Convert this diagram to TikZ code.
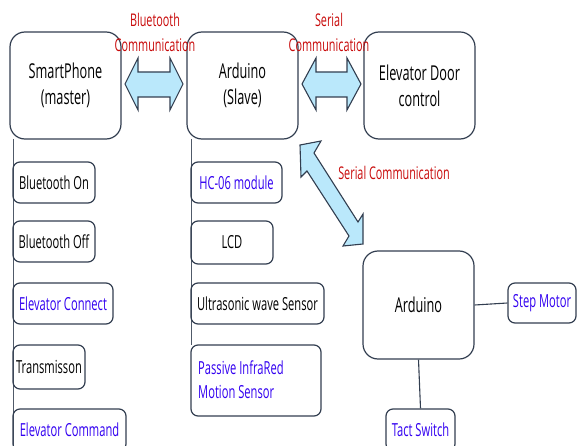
\documentclass[tikz,border=0pt]{standalone}
\usepackage{fontspec}
\setmainfont[FakeStretch=0.62]{Open Sans}
\definecolor{edge}{RGB}{50,62,80}
\definecolor{busline}{RGB}{80,90,105}
\definecolor{redtxt}{RGB}{200,10,10}
\definecolor{bluetxt}{RGB}{50,0,240}
\definecolor{arrowfill}{RGB}{186,232,251}
\tikzset{
  bigbox/.style={draw=edge, line width=1.2pt, rounded corners=15pt, minimum width=111pt, minimum height=107pt, inner sep=0pt, align=center, font=\fontsize{20.5}{26}\selectfont},
  smallbox/.style={draw=edge, line width=1.2pt, rounded corners=7pt, minimum height=41pt, inner sep=0pt, align=center, font=\fontsize{18}{24}\selectfont},
  bluebox/.style={smallbox, text=bluetxt},
  commlabel/.style={text=redtxt, align=center, inner sep=0pt, font=\fontsize{17.5}{25}\selectfont},
  link/.style={draw=edge, line width=1.1pt},
  busstyle/.style={draw=busline, line width=0.9pt},
  fatarrow/.style={draw=edge, line width=1.1pt, fill=arrowfill, line join=miter}
}
\begin{document}
\begin{tikzpicture}[x=1pt,y=-1pt]
\useasboundingbox (0,0) rectangle (577,446);
% vertical bus lines
\coordinate (lt) at (13,139);
\coordinate (lb) at (13,446);
\coordinate (mt) at (191,139);
\coordinate (mb) at (191,345);
\draw[busstyle] (lt) -- (lb);
\draw[busstyle] (mt) -- (mb);
% main boxes
\node[bigbox] (sp) at (65.5,85.5) {SmartPhone\\(master)};
\node[bigbox] (ard1) at (242.5,85.5) {Arduino\\(Slave)};
\node[bigbox] (door) at (419.5,85.5) {Elevator Door\\control};
\node[bigbox, minimum height=108pt] (ard2) at (418.5,305) {Arduino};
% left column
\node[smallbox, minimum width=82pt] (bton) at (54,182.5) {Bluetooth On};
\node[smallbox, minimum width=82pt] (btoff) at (54,241.5) {Bluetooth Off};
\node[bluebox, minimum width=100pt] (econ) at (63,303.5) {Elevator Connect};
\node[smallbox, minimum width=72pt, minimum height=44pt] (trans) at (49,367) {Transmisson};
\node[bluebox, minimum width=113pt, minimum height=42pt] (ecmd) at (69.5,430) {Elevator Command};
% middle column
\node[bluebox, minimum width=91pt] (hc) at (236.5,182.5) {HC-06 module};
\node[smallbox, minimum width=82pt, minimum height=43pt] (lcd) at (232,242.5) {LCD};
\node[smallbox, minimum width=133pt] (ultra) at (257.5,303.5) {Ultrasonic wave Sensor};
\node[smallbox, minimum width=130pt, minimum height=71pt] (pir) at (256,380.5) {};
\node[anchor=west, inner sep=0pt, text=bluetxt, align=left, font=\fontsize{18}{24}\selectfont] (pirtext) at (198,379.5) {Passive InfraRed\\Motion Sensor};
% right side
\node[bluebox, minimum width=68pt, minimum height=40pt] (step) at (542,303) {Step Motor};
\node[bluebox, minimum width=69pt, minimum height=42pt] (tact) at (420.5,430) {Tact Switch};
\draw[link] (ard2.east) -- (step.west);
\draw[link] (ard2.south) -- (tact.north);
% communication arrows
\draw[fatarrow] (125,84) -- (138,58) -- (138,72) -- (170,72) -- (170,58) -- (183,84) -- (170,110) -- (170,97) -- (138,97) -- (138,110) -- cycle;
\draw[fatarrow] (302,84) -- (316,58) -- (316,72) -- (347,72) -- (347,58) -- (361,84) -- (347,110) -- (347,97) -- (316,97) -- (316,110) -- cycle;
\draw[fatarrow] (300,145) -- (321,141) -- (314,153) -- (358,222) -- (363,214) -- (363,244) -- (343,246) -- (349,236) -- (307,171) -- (301,177) -- cycle;
% labels
\node[commlabel] (lblbt) at (155,32) {Bluetooth\\Communication};
\node[commlabel] (lblser) at (329,32) {Serial\\Communication};
\node[commlabel] (lbldiag) at (394,173) {Serial Communication};
\end{tikzpicture}
\end{document}
